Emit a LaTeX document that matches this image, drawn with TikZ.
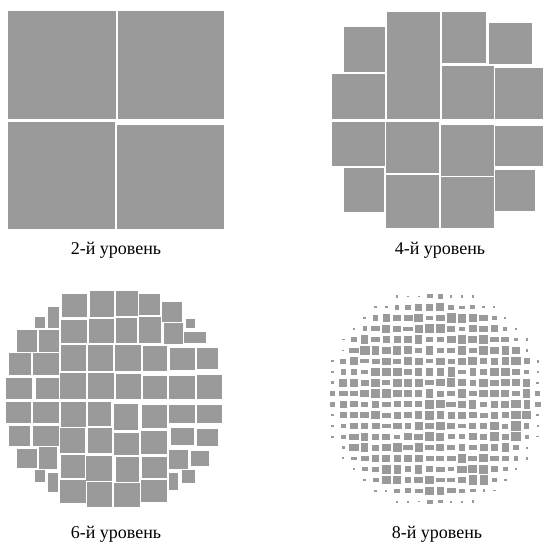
\documentclass[tikz,border=0pt]{standalone}
\usepackage{fontspec}
\setmainfont{Liberation Serif}
\definecolor{cellc}{RGB}{154,154,154}
\tikzset{cell/.style={fill=cellc},
lab/.style={font=\fontsize{18}{20}\selectfont, inner sep=0pt, anchor=base}}
\begin{document}
\begin{tikzpicture}[x=1pt,y=-1pt]
\useasboundingbox (0,0) rectangle (543,543);
% Panel 1 : level 2
\fill[cell] (7.5,11) rectangle (115.5,119);
\fill[cell] (117.7,11) rectangle (224,119.3);
\fill[cell] (7.5,121.7) rectangle (114.5,228.7);
\fill[cell] (116.5,124.7) rectangle (224,228.7);
% Panel 2 : level 4
\begin{scope}[xshift=272pt,x=0.33333pt,y=-0.33333pt]
\foreach \a/\b/\c/\d in {215/82/338/216, 344/35/503/358, 509/35/643/190, 650/68/780/193,
 180/222/338/358, 509/198/665/358, 669/203/813/358,
 180/367/338/498, 342/367/500/520, 507/375/665/527, 669/377/813/498,
 215/505/336/637, 341/525/500/685, 506/531/665/685, 668/510/790/632}
 {\fill[cell] (\a,\b) rectangle (\c,\d);}
\end{scope}
% Panel 3 : level 6
\begin{scope}[yshift=-270pt,x=0.33333pt,y=-0.33333pt]
\foreach \a/\b/\c/\d in {187/72/262/142, 270/63/342/142, 347/63/414/138, 418/72/481/135, 487/97/547/157,
 145/110/178/175, 104/140/135/173, 558/147/585/173,
 52/180/110/245, 118/180/178/245, 182/150/260/220, 267/147/342/220, 347/145/410/218, 416/142/483/220, 491/160/548/222, 552/187/617/220,
 27/248/93/314, 100/250/177/314, 184/226/258/302, 263/226/340/302, 346/226/422/304, 428/228/501/302, 511/233/585/300, 591/233/655/298,
 17/324/97/388, 107/324/177/388, 181/310/258/388, 263/308/343/388, 347/312/422/388, 428/318/502/388, 508/318/586/388, 590/316/665/388,
 17/397/93/460, 98/397/177/460, 182/397/258/470, 263/397/333/468, 342/403/414/480, 425/405/502/475, 508/405/585/460, 590/405/665/460,
 27/467/91/527, 100/467/177/527, 180/473/255/548, 264/473/337/550, 343/488/418/556, 423/484/500/553, 512/475/582/525, 592/477/655/527,
 52/537/110/595, 118/532/172/597, 182/555/255/625, 258/557/337/632, 347/562/418/635, 425/560/502/625, 506/540/565/597, 573/543/627/588,
 104/600/135/635, 145/610/175/665, 507/610/535/660, 546/600/585/640,
 180/630/257/700, 262/636/337/710, 343/640/420/710, 423/630/500/697}
 {\fill[cell] (\a,\b) rectangle (\c,\d);}
\end{scope}
% Panel 4 : level 8
\pgfmathsetseed{11}
\foreach \i in {0,...,19}{
 \foreach \j in {0,...,19}{
  \pgfmathsetmacro\cx{327+(\i+0.5)*10.8}
  \pgfmathsetmacro\cy{291+(\j+0.5)*10.8}
  \pgfmathsetmacro\dd{veclen(\cx-435,\cy-399)}
  \pgfmathsetmacro\w{10.8*(0.6+0.28*rnd)}
  \pgfmathsetmacro\h{10.8*(0.42+0.45*rnd)}
  \pgfmathsetmacro\sc{\dd<95?1:(\dd<103?0.65:(\dd<110?0.3:0))}
  \ifdim\sc pt>0pt
   \fill[cell] (\cx-\sc*\w/2,\cy-\sc*\h/2) rectangle ++(\sc*\w,\sc*\h);
  \fi
 }}
% labels
\node[lab] (l2) at (116,254) {2-й уровень};
\node[lab] (l4) at (440,254) {4-й уровень};
\node[lab] (l6) at (116,538) {6-й уровень};
\node[lab] (l8) at (437,538) {8-й уровень};
\end{tikzpicture}
\end{document}
